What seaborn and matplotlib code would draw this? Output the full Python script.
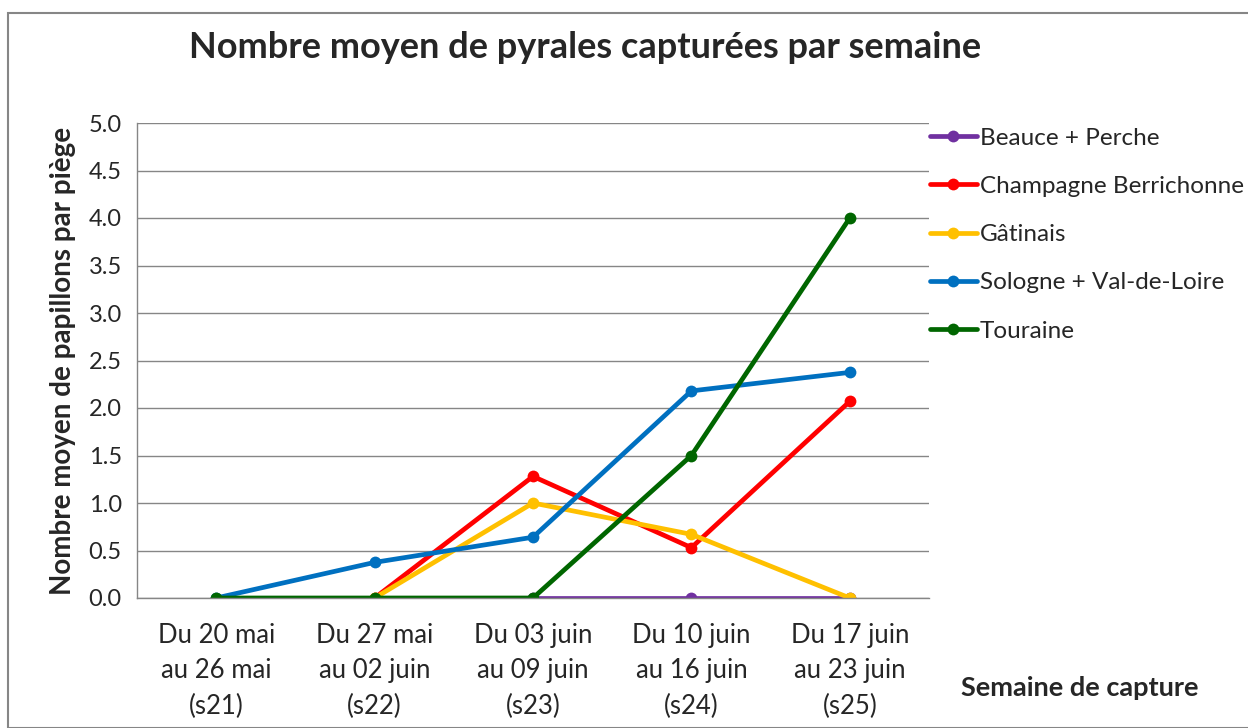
import numpy as np
import pandas as pd
import matplotlib
matplotlib.use("Agg")
import matplotlib.pyplot as plt
import seaborn as sns
from matplotlib.patches import Rectangle

weeks = ["Du 20 mai\nau 26 mai\n(s21)", "Du 27 mai\nau 02 juin\n(s22)", "Du 03 juin\nau 09 juin\n(s23)",
         "Du 10 juin\nau 16 juin\n(s24)", "Du 17 juin\nau 23 juin\n(s25)"]
series_names = ["Beauce + Perche", "Champagne Berrichonne", "Gâtinais", "Sologne + Val-de-Loire", "Touraine"]
beauce = [np.nan, np.nan, 0.0, 0.0, 0.0]
champagne = [np.nan, 0.0, 1.28, 0.53, 2.07]
gatinais = [np.nan, 0.0, 1.0, 0.67, 0.0]
sologne = [0.0, 0.375, 0.64, 2.18, 2.375]
touraine = [0.0, 0.0, 0.0, 1.5, 4.0]
colors = ["#7030A0", "#FF0000", "#FFC000", "#0070C0", "#006600"]

rows = []
for name, vals in zip(series_names, [beauce, champagne, gatinais, sologne, touraine]):
    for i, v in enumerate(vals):
        rows.append({"x": i, "y": v, "serie": name})
df = pd.DataFrame(rows)

sns.set_style("white")
plt.rcParams['font.family'] = ['Lato', 'DejaVu Sans']

fig = plt.figure(figsize=(12.48, 7.28), dpi=100)
ax = fig.add_axes([137/1248, 1-598/728, (929-137)/1248, (598-123)/728])

sns.lineplot(data=df, x="x", y="y", hue="serie", hue_order=series_names,
             palette=colors, marker="o", markersize=8.5, markeredgewidth=0,
             linewidth=3.4, ax=ax, sort=False, legend=True)

ax.set_xlim(-0.5, 4.5)
ax.set_ylim(0, 5)
ax.set_yticks(np.arange(0, 5.01, 0.5))
ax.set_yticklabels([f"{v:.1f}" for v in np.arange(0, 5.01, 0.5)], fontsize=17)
ax.set_xticks(range(5))
ax.set_xticklabels(weeks, fontsize=18.5, linespacing=1.52)
ax.set_xticks(np.arange(-0.5, 4.51, 1), minor=True)
ax.tick_params(axis="x", which="major", length=0, pad=18)
ax.tick_params(axis="x", which="minor", length=6, color="#868686", width=1)
ax.tick_params(axis="y", length=6, color="#868686", width=1, pad=5)
ax.yaxis.grid(True, color="#868686", linewidth=1)
ax.set_axisbelow(True)
for s in ["top", "right"]:
    ax.spines[s].set_visible(False)
for s in ["left", "bottom"]:
    ax.spines[s].set_color("#868686")
    ax.spines[s].set_linewidth(1)
ax.set_xlabel("")
ax.set_ylabel("Nombre moyen de papillons par piège", fontsize=20, fontweight="bold", labelpad=9)

leg = ax.legend(loc="upper left", bbox_to_anchor=(920/1248, 1-118/728), bbox_transform=fig.transFigure,
                frameon=False, fontsize=17.5, labelspacing=1.12, handlelength=1.95, handletextpad=0.12,
                borderaxespad=0)
for line in leg.get_lines():
    line.set_linewidth(3.4)

fig.text(585/1248, 1-48/728, "Nombre moyen de pyrales capturées par semaine", ha="center", va="center",
         fontsize=26, fontweight="bold")
fig.text(1080/1248, 1-688/728, "Semaine de capture", ha="center", va="center", fontsize=19.5, fontweight="bold")

fig.patches.append(Rectangle((8/1248, 0), 1.0, 1-13/728, transform=fig.transFigure, fill=False,
                             edgecolor="#868686", linewidth=1.5, zorder=-1))

fig.savefig("out.png", dpi=100)
